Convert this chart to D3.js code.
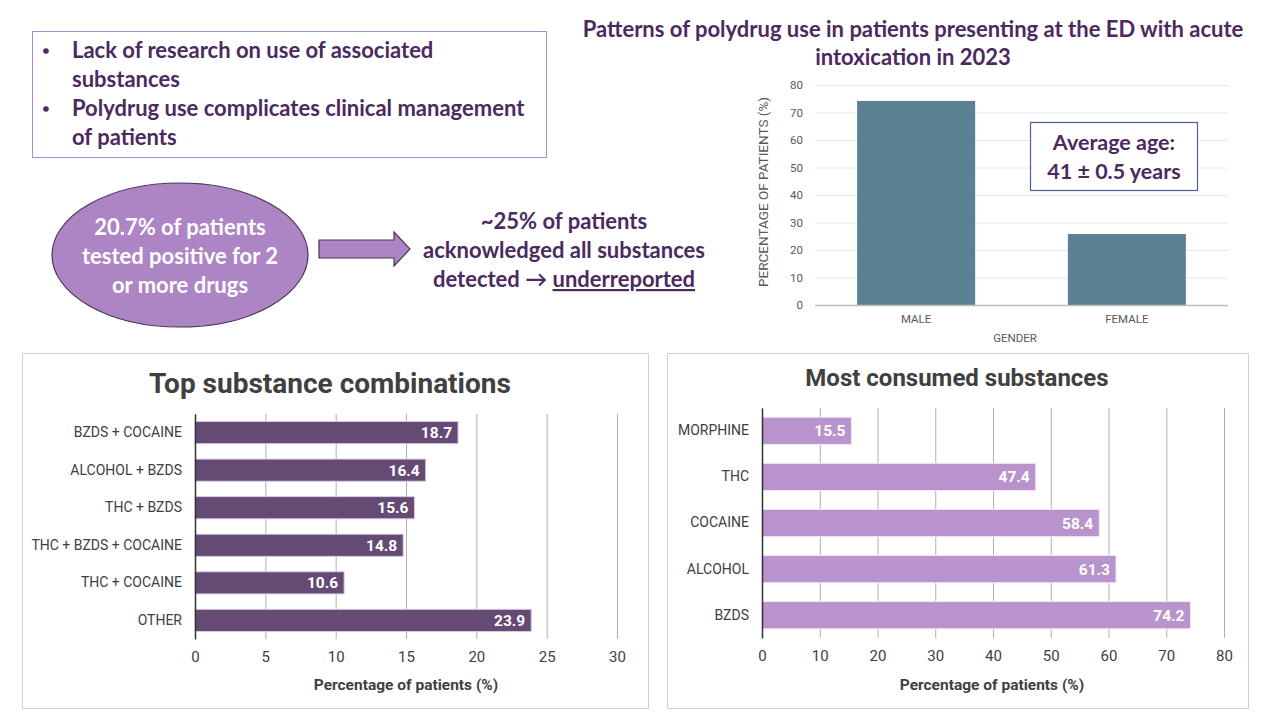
<!DOCTYPE html>
<html lang="en">
<head>
<meta charset="UTF-8">
<title>Polydrug use in the ED</title>
<script src="https://d3js.org/d3.v7.min.js"></script>
<style>
  body { margin: 0; background: #fff; }
  svg { display: block; }
  .narrow { font-family: "Liberation Sans Narrow", "Roboto", sans-serif; }
</style>
</head>
<body>
<svg id="slide" width="1280" height="720"></svg>
<script>
// gender split
const genders = ["MALE", "FEMALE"];
const genderPct = [74.2, 25.8];
const genderTicks = [0, 10, 20, 30, 40, 50, 60, 70, 80];

// top substance combinations
const combos = ["BZDS + COCAINE", "ALCOHOL + BZDS", "THC + BZDS", "THC + BZDS + COCAINE", "THC + COCAINE", "OTHER"];
const comboPct = [18.7, 16.4, 15.6, 14.8, 10.6, 23.9];
const comboTicks = [0, 5, 10, 15, 20, 25, 30];

// most consumed substances
const substances = ["MORPHINE", "THC", "COCAINE", "ALCOHOL", "BZDS"];
const substancePct = [15.5, 47.4, 58.4, 61.3, 74.2];
const substanceTicks = [0, 10, 20, 30, 40, 50, 60, 70, 80];

const svg = d3.select("#slide");
const purpleText = "#4b2a5f";
const font = "Lato, 'Open Sans', sans-serif";

// ---------- bullet box ----------
svg.append("rect").attr("x", 32.5).attr("y", 31.5).attr("width", 514).attr("height", 126)
  .attr("fill", "none").attr("stroke", "#a98cc9").attr("stroke-width", 1);
const bullets = [["Lack of research on use of associated", "substances"],
                 ["Polydrug use complicates clinical management", "of patients"]];
let ly = 58;
bullets.forEach(b => {
  svg.append("circle").attr("cx", 46).attr("cy", ly - 7).attr("r", 2.8).attr("fill", purpleText);
  b.forEach(line => {
    svg.append("text").attr("x", 72).attr("y", ly).text(line)
      .style("font-family", font).style("font-weight", "bold").style("font-size", "22px").attr("fill", purpleText);
    ly += 29;
  });
});

// ---------- ellipse + arrow + note ----------
svg.append("ellipse").attr("cx", 180).attr("cy", 255).attr("rx", 128).attr("ry", 72)
  .attr("fill", "#ad84c4").attr("stroke", "#4a3558").attr("stroke-width", 1.2);
["20.7% of patients", "tested positive for 2", "or more drugs"].forEach((t, i) => {
  svg.append("text").attr("x", 180).attr("y", 235 + i * 29).attr("text-anchor", "middle").text(t)
    .style("font-family", font).style("font-weight", "bold").style("font-size", "22px").attr("fill", "#fff");
});
svg.append("path")
  .attr("d", "M319,240 L394,240 L394,232 L410,249 L394,266 L394,258 L319,258 Z")
  .attr("fill", "#ad84c4").attr("stroke", "#4a3558").attr("stroke-width", 1.2);
["~25% of patients", "acknowledged all substances"].forEach((t, i) => {
  svg.append("text").attr("x", 564).attr("y", 229 + i * 29).attr("text-anchor", "middle").text(t)
    .style("font-family", font).style("font-weight", "bold").style("font-size", "22px").attr("fill", purpleText);
});
const lastLine = svg.append("text").attr("x", 564).attr("y", 287).attr("text-anchor", "middle")
  .style("font-family", font).style("font-weight", "bold").style("font-size", "22px").attr("fill", purpleText);
lastLine.append("tspan").text("detected \u2192 ");
lastLine.append("tspan").text("underreported").style("text-decoration", "underline");

// ---------- gender chart ----------
["Patterns of polydrug use in patients presenting at the ED with acute", "intoxication in 2023"].forEach((t, i) => {
  svg.append("text").attr("x", 913).attr("y", 37 + i * 28).attr("text-anchor", "middle").text(t)
    .style("font-family", font).style("font-weight", "bold").style("font-size", "22px").attr("fill", purpleText);
});

const gx = d3.scaleBand().domain(genders).range([815, 1228]).paddingInner(0.44).paddingOuter(0.2);
const gy = d3.scaleLinear().domain([0, 80]).range([305, 85]);
const gg = svg.append("g");
gg.append("g").attr("transform", "translate(815,0)")
  .call(d3.axisLeft(gy).tickValues(genderTicks).tickSize(-413).tickPadding(12))
  .call(a => a.select(".domain").remove())
  .call(a => a.selectAll("line").attr("stroke", "#e6e6e6"))
  .call(a => a.selectAll("text").attr("fill", "#595959").style("font-family", "Roboto, sans-serif").style("font-size", "11.5px"));
gg.selectAll(".gbar").data(genders).join("rect")
  .attr("x", d => gx(d)).attr("width", gx.bandwidth())
  .attr("y", (d, i) => gy(genderPct[i])).attr("height", (d, i) => gy(0) - gy(genderPct[i]))
  .attr("fill", "#5b7f93");
gg.append("line").attr("x1", 815).attr("x2", 1228).attr("y1", 305.5).attr("y2", 305.5)
  .attr("stroke", "#bfbfbf").attr("stroke-width", 1.5);
gg.append("g").attr("transform", "translate(0,305)")
  .call(d3.axisBottom(gx).tickSize(0).tickPadding(10))
  .call(a => a.select(".domain").remove())
  .call(a => a.selectAll("text").attr("fill", "#595959").style("font-family", "Roboto, sans-serif").style("font-size", "11.5px"));
gg.append("text").attr("x", 1015).attr("y", 342).attr("text-anchor", "middle").text("GENDER")
  .attr("fill", "#595959").style("font-family", "Roboto, sans-serif").style("font-size", "11.5px");
gg.append("text").attr("transform", "translate(768,192) rotate(-90)").attr("text-anchor", "middle")
  .text("PERCENTAGE OF PATIENTS (%)")
  .attr("fill", "#595959").style("font-family", "Roboto, sans-serif").style("font-size", "13.5px");
gg.append("rect").attr("x", 1030.5).attr("y", 122.5).attr("width", 167).attr("height", 68)
  .attr("fill", "#fff").attr("stroke", "#4a5f9a").attr("stroke-width", 1.2);
["Average age:", "41 \u00b1 0.5 years"].forEach((t, i) => {
  gg.append("text").attr("x", 1114).attr("y", 150 + i * 29).attr("text-anchor", "middle").text(t)
    .style("font-family", font).style("font-weight", "bold").style("font-size", "21.5px").attr("fill", purpleText);
});

// ---------- horizontal bar panels ----------
function hbar(opt) {
  const g = svg.append("g");
  g.append("rect").attr("x", opt.box[0] + 0.5).attr("y", opt.box[1] + 0.5)
    .attr("width", opt.box[2]).attr("height", opt.box[3])
    .attr("fill", "#fff").attr("stroke", "#d0d0d0");
  g.append("text").attr("x", opt.titleX).attr("y", opt.titleY).attr("text-anchor", "middle").text(opt.title)
    .style("font-family", "Roboto, sans-serif").style("font-weight", "bold").style("font-size", opt.titleSize)
    .attr("fill", "#404040");
  const x = d3.scaleLinear().domain([0, opt.max]).range(opt.xr);
  const y = d3.scaleBand().domain(opt.cats).range(opt.yr).paddingInner(0.41).paddingOuter(0.2);
  g.append("g").attr("transform", `translate(0,${opt.yr[1]})`)
    .call(d3.axisBottom(x).tickValues(opt.ticks).tickSize(-(opt.yr[1] - opt.yr[0])).tickPadding(12))
    .call(a => a.select(".domain").remove())
    .call(a => a.selectAll("line").attr("stroke", "#b0b0b0"))
    .call(a => a.selectAll("text").attr("class", "narrow").attr("fill", "#404040").style("font-size", "15px"));
  g.selectAll(".bar").data(opt.cats).join("rect")
    .attr("x", x(0)).attr("y", d => y(d))
    .attr("width", (d, i) => x(opt.vals[i]) - x(0)).attr("height", y.bandwidth())
    .attr("fill", opt.color).attr("stroke", opt.edge).attr("stroke-width", 1);
  g.selectAll(".val").data(opt.cats).join("text")
    .attr("x", (d, i) => x(opt.vals[i]) - 6).attr("y", d => y(d) + y.bandwidth() / 2 + 5.5)
    .attr("text-anchor", "end").text((d, i) => opt.vals[i].toFixed(1))
    .style("font-family", "Roboto, sans-serif").style("font-weight", "bold").style("font-size", "15.5px")
    .attr("fill", "#fff");
  g.append("g").attr("transform", `translate(${opt.xr[0]},0)`)
    .call(d3.axisLeft(y).tickSize(0).tickPadding(13))
    .call(a => a.select(".domain").attr("stroke", "#333").attr("stroke-width", 1.5))
    .call(a => a.selectAll("text").attr("class", "narrow").attr("fill", "#404040").style("font-size", "14px"));
  g.append("text").attr("x", opt.axisX).attr("y", 690).attr("text-anchor", "middle").text("Percentage of patients (%)")
    .style("font-family", "Roboto, sans-serif").style("font-weight", "bold").style("font-size", "15.5px")
    .attr("fill", "#404040");
}

hbar({
  box: [22, 353, 626, 355], title: "Top substance combinations", titleX: 330, titleY: 393, titleSize: "28px",
  cats: combos, vals: comboPct, ticks: comboTicks, max: 30, xr: [195, 617], yr: [414, 639],
  color: "#654a74", edge: "#d9c9e3", axisX: 406
});
hbar({
  box: [667, 353, 581, 355], title: "Most consumed substances", titleX: 957, titleY: 386, titleSize: "24px",
  cats: substances, vals: substancePct, ticks: substanceTicks, max: 80, xr: [762, 1224], yr: [408, 638],
  color: "#b994cc", edge: "#f0e6f6", axisX: 992
});
</script>
</body>
</html>
